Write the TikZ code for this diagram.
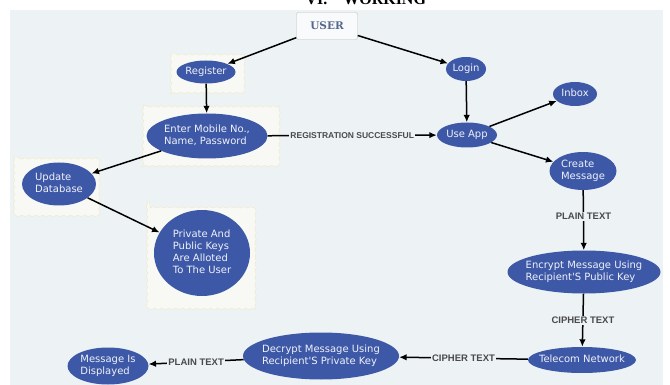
\documentclass[tikz,border=0pt]{standalone}
\usepackage{fontspec}
\setmainfont{Liberation Serif}
\newfontfamily\bubblefont{DejaVu Sans}
\newfontfamily\tagfont{Liberation Sans}
\newfontfamily\userfont{DejaVu Serif}
\usetikzlibrary{shapes.geometric,arrows.meta,decorations.pathmorphing}

\definecolor{canvas}{HTML}{EDF2F5}
\definecolor{paper}{HTML}{F8F9F4}
\definecolor{crease}{HTML}{EEE8C8}
\definecolor{bubbleblue}{HTML}{3E58A8}
\definecolor{taggray}{HTML}{4A4A4A}
\definecolor{userblue}{HTML}{56688A}

% text of a bubble, kept out of the ellipse size
\newcommand{\inside}[1]{\makebox[0pt]{\raisebox{\dimexpr(\depth-\height)/2\relax}[0pt][0pt]{\begin{tabular}{@{}l@{}}#1\end{tabular}}}}

\begin{document}
\begin{tikzpicture}[x=1pt, y=-1pt,
    bubble/.style={ellipse, fill=bubbleblue, text=white!92!bubbleblue, inner sep=0pt,
        font=\bubblefont\fontsize{10}{12}\selectfont},
    flow/.style={-{Latex[length=7.5pt,width=6.5pt]}, line width=1.5pt},
    tag/.style={fill=canvas, text=taggray, inner sep=1pt,
        font=\tagfont\bfseries\fontsize{9.5}{11}\selectfont},
    sheet/.style={fill=paper, draw=crease, decorate,
        decoration={snake, amplitude=0.7pt, segment length=7pt}}]
    \useasboundingbox (0,0) rectangle (670,385);
    \fill[canvas] (10,10) rectangle (663,385);
    \node[anchor=base west, font=\bfseries\fontsize{16}{18}\selectfont] (heading) at (302,4.5) {VI.\hspace{16pt}WORKING};

    % pale sheets under the left column
    \draw[sheet] (171,53) rectangle (243,93);
    \draw[sheet] (143,105) rectangle (277,166);
    \draw[sheet] (14,157) rectangle (100,213);
    \draw[sheet] (147,201) rectangle (256,305);

    \node[draw=black!25, fill=white!60!canvas, rounded corners=2pt, minimum width=61pt, minimum height=27pt,
        text=userblue, font=\userfont\bfseries\fontsize{10.5}{12}\selectfont] (user) at (327,26) {USER};
    \node[bubble, minimum width=59pt, minimum height=23pt] (register) at (206,72) {\inside{Register}};
    \node[bubble, minimum width=40pt, minimum height=24pt] (login) at (466,69) {\inside{Login}};
    \node[bubble, minimum width=44pt, minimum height=24pt] (inbox) at (575,94) {\inside{Inbox}};
    \node[bubble, minimum width=121pt, minimum height=45pt] (details) at (207,136) {\inside{Enter Mobile No.,\\Name, Password}};
    \node[bubble, minimum width=60pt, minimum height=25pt] (useapp) at (467,135) {\inside{Use App}};
    \node[bubble, minimum width=67pt, minimum height=38pt] (create) at (583,171) {\inside{Create\\Message}};
    \node[bubble, minimum width=74pt, minimum height=43pt] (database) at (59,184) {\inside{Update\\Database}};
    \node[bubble, minimum width=96pt, minimum height=86pt] (keys) at (202,253) {\inside{Private And\\Public Keys\\Are Alloted\\To The User}};
    \node[bubble, minimum width=153pt, minimum height=43pt] (encrypt) at (584,272) {\inside{Encrypt Message Using\\Recipient'S Public Key}};
    \node[bubble, minimum width=108pt, minimum height=26pt] (telecom) at (582,360) {\inside{Telecom Network}};
    \node[bubble, minimum width=156pt, minimum height=47pt] (decrypt) at (321,356) {\inside{Decrypt Message Using\\Recipient'S Private Key}};
    \node[bubble, minimum width=81pt, minimum height=37pt] (shown) at (108,366) {\inside{Message Is\\Displayed}};

    \draw[flow] (user) -- (register);
    \draw[flow] (user) -- (login);
    \draw[flow] (register) -- (details);
    \draw[flow] (login) -- (useapp);
    \draw[flow] (details) -- (useapp) node[tag, midway, font=\tagfont\bfseries\fontsize{8.5}{10}\selectfont] {REGISTRATION SUCCESSFUL};
    \draw[flow] (useapp) -- (inbox);
    \draw[flow] (useapp) -- (create);
    \draw[flow] (details) -- (database);
    \draw[flow] (database) -- (keys);
    \draw[flow] (create) -- (encrypt) node[tag, midway, yshift=4pt] {PLAIN TEXT};
    \draw[flow] (encrypt) -- (telecom) node[tag, midway] {CIPHER TEXT};
    \draw[flow] (telecom) -- (decrypt) node[tag, midway] {CIPHER TEXT};
    \draw[flow] (decrypt) -- (shown) node[tag, midway] {PLAIN TEXT};
\end{tikzpicture}
\end{document}
